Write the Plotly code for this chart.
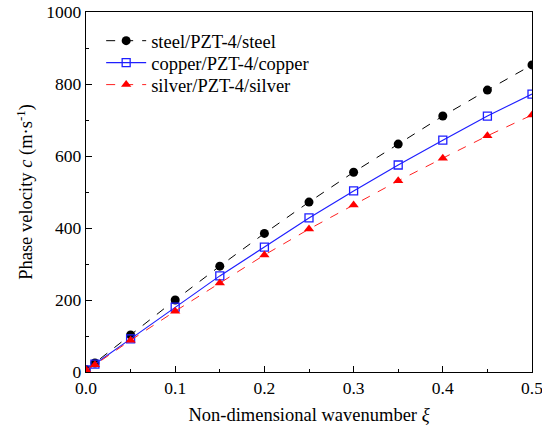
import plotly.graph_objects as go

xi = [0.0, 0.01, 0.05, 0.1, 0.15, 0.2, 0.25, 0.3, 0.35, 0.4, 0.45, 0.5]
steel = [6, 25, 103, 200, 294, 385, 472, 555, 633, 711, 783, 853]
copper = [6, 22, 92, 180, 267, 347, 428, 503, 575, 644, 711, 772]
silver = [6, 20, 88, 169, 247, 325, 397, 464, 531, 594, 656, 714]

font = "Liberation Serif, Times New Roman, serif"

fig = go.Figure()
fig.add_trace(go.Scatter(x=xi, y=steel, mode="lines+markers", name="steel/PZT-4/steel",
                         line=dict(color="black", width=1, dash="dash"), legend="legend",
                         marker=dict(symbol="circle", size=9, color="black")))
fig.add_trace(go.Scatter(x=xi, y=copper, mode="lines+markers", name="copper/PZT-4/copper",
                         line=dict(color="#1f1fff", width=1.2), legend="legend2",
                         marker=dict(symbol="square-open", size=8, color="#1f1fff", line=dict(width=1.3))))
fig.add_trace(go.Scatter(x=xi, y=silver, mode="lines+markers", name="silver/PZT-4/silver",
                         line=dict(color="#ff2020", width=1, dash="dash"), legend="legend3",
                         marker=dict(symbol="triangle-up", size=9, color="#ff0000")))

axis_common = dict(showline=True, linecolor="black", linewidth=1.3, mirror=True,
                   ticks="inside", ticklen=6, tickcolor="black", showgrid=False, zeroline=False,
                   automargin=False, ticklabeloverflow="allow",
                   tickfont=dict(size=17.5, family=font, color="black"))

fig.update_xaxes(range=[0, 0.5], dtick=0.1, tickformat=".1f",
                 minor=dict(ticks="inside", ticklen=3, dtick=0.05, tickcolor="black"),
                 title=dict(text="Non-dimensional wavenumber <i>ξ</i>", font=dict(size=18.5, family=font, color="black"), standoff=10),
                 **axis_common)
fig.update_yaxes(range=[0, 1000], dtick=200,
                 minor=dict(ticks="inside", ticklen=3, dtick=100, tickcolor="black"),
                 title=dict(text="Phase velocity <i>c</i> (m·s<sup>-1</sup>)", font=dict(size=18.5, family=font, color="black"), standoff=8),
                 **axis_common)

leg = dict(x=0.034, xanchor="left", yanchor="middle",
           font=dict(size=18.5, family=font, color="black"),
           bgcolor="rgba(0,0,0,0)", itemwidth=40)
fig.update_layout(width=542, height=427, margin=dict(l=86, r=10, t=12, b=55),
                  plot_bgcolor="white", paper_bgcolor="white",
                  font=dict(family=font, color="black"),
                  legend=dict(y=0.919, **leg),
                  legend2=dict(y=0.858, **leg),
                  legend3=dict(y=0.797, **leg),
                  showlegend=True)

fig.write_html("out.html", config={"displayModeBar": False},
               post_script="document.body.style.margin='0';document.body.style.overflow='hidden';")
